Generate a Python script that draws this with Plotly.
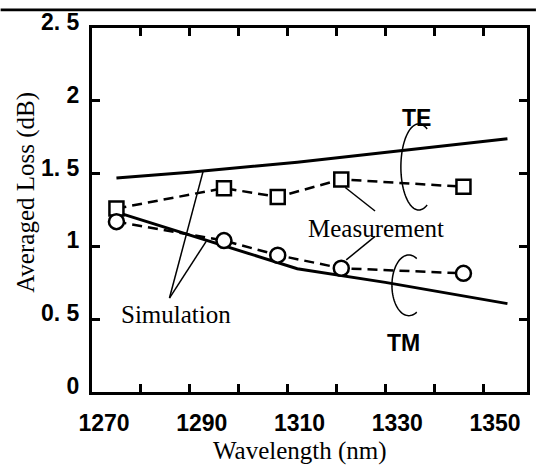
import numpy as np
import plotly.graph_objects as go

# ---------------- data ----------------
wl_meas = [1275, 1297, 1308, 1321, 1346]
te_meas = [1.26, 1.40, 1.34, 1.46, 1.41]
tm_meas = [1.17, 1.04, 0.94, 0.85, 0.815]

wl_sim = [1275, 1290, 1312, 1330, 1355]
te_sim = [1.47, 1.51, 1.578, 1.645, 1.74]
tm_sim = [1.235, 1.078, 0.847, 0.753, 0.607]

y_tickvals = [0, 0.5, 1, 1.5, 2, 2.5]
y_ticktext = ["0", "0. 5", "1", "1. 5", "2", "2. 5"]

# ---------------- geometry helpers (layout only) ----------------
W, H = 539, 468
L, R, T, B = 92, 530, 20, 392
X0, X1 = 1270, 1359
Y0, Y1 = 0.0, 2.5

def dx(px):
    return X0 + (px - L) / (R - L) * (X1 - X0)

def dy(py):
    return Y0 + (B - py) / (B - T) * (Y1 - Y0)

def ppx(px):
    return (px - L) / (R - L)

def ppy(py):
    return (B - py) / (B - T)

SERIF = "Liberation Serif, Times New Roman, serif"
GOTH = "Liberation Sans Narrow, Liberation Sans, Arial, sans-serif"

fig = go.Figure()

# simulation (solid)
fig.add_trace(go.Scatter(x=wl_sim, y=te_sim, mode="lines",
                         line=dict(color="black", width=3), showlegend=False))
fig.add_trace(go.Scatter(x=wl_sim, y=tm_sim, mode="lines",
                         line=dict(color="black", width=3), showlegend=False))
# measurement (dashed with markers)
fig.add_trace(go.Scatter(x=wl_meas, y=te_meas, mode="lines+markers",
                         line=dict(color="black", width=2.5, dash="10px,6px"),
                         marker=dict(symbol="square", size=14, color="white",
                                     line=dict(color="black", width=2.5)),
                         showlegend=False))
fig.add_trace(go.Scatter(x=wl_meas, y=tm_meas, mode="lines+markers",
                         line=dict(color="black", width=2.5, dash="10px,6px"),
                         marker=dict(symbol="circle", size=15, color="white",
                                     line=dict(color="black", width=2.5)),
                         showlegend=False))

shapes = []

def seg(p, q, w=1.5):
    shapes.append(dict(type="line", xref="x", yref="y",
                       x0=dx(p[0]), y0=dy(p[1]), x1=dx(q[0]), y1=dy(q[1]),
                       line=dict(color="black", width=w)))

# pointer lines
seg((170, 296), (204, 166))
seg((170, 296), (207, 238))
seg((347, 183), (377, 207))
seg((377, 233), (348, 257))

def bracket(cx, cy, rx, ry, a0=62, a1=298):
    t = np.radians(np.linspace(a0, a1, 60))
    xs = cx + rx * np.cos(t)
    ys = cy - ry * np.sin(t)
    path = "M " + " L ".join(f"{dx(x):.4f},{dy(y):.4f}" for x, y in zip(xs, ys))
    shapes.append(dict(type="path", xref="x", yref="y", path=path,
                       line=dict(color="black", width=1.5)))

bracket(421, 162, 18, 44)
bracket(411, 283, 17, 31)

# top black band
shapes.append(dict(type="rect", xref="paper", yref="paper",
                   x0=ppx(0), x1=ppx(W), y0=ppy(0), y1=ppy(3),
                   fillcolor="black", line=dict(width=0)))

annotations = [
    dict(text="Measurement", x=dx(378), y=dy(225), font=dict(family=SERIF, size=25)),
    dict(text="Simulation", x=dx(177), y=dy(313), font=dict(family=SERIF, size=25)),
    dict(text="TE", x=dx(419), y=dy(112), font=dict(family=GOTH, size=23, weight="bold")),
    dict(text="TM", x=dx(406), y=dy(342), font=dict(family=GOTH, size=23, weight="bold")),
]
for a in annotations:
    a.update(xref="x", yref="y", showarrow=False, xanchor="center", yanchor="middle")
    a["font"]["color"] = "black"

annotations.append(dict(text="Wavelength (nm)", xref="paper", yref="paper",
                        x=ppx(301), y=ppy(452), showarrow=False,
                        xanchor="center", yanchor="middle",
                        font=dict(family=SERIF, size=25, color="black")))
annotations.append(dict(text="Averaged Loss (dB)", xref="paper", yref="paper",
                        x=ppx(26), y=ppy(188), showarrow=False, textangle=-90,
                        xanchor="center", yanchor="middle",
                        font=dict(family=SERIF, size=25, color="black")))

tickfont = dict(family=GOTH, size=23, color="black", weight="bold")

fig.update_layout(
    width=W, height=H,
    margin=dict(l=L, r=W - R, t=T, b=H - B, pad=0),
    paper_bgcolor="white", plot_bgcolor="white",
    shapes=shapes, annotations=annotations,
    xaxis=dict(range=[X0, X1], tick0=1270, dtick=20,
               ticks="inside", ticklen=8, tickwidth=2.5, tickcolor="black",
               minor=dict(dtick=10, tick0=1270, ticks="inside", ticklen=8,
                          tickwidth=2.5, tickcolor="black"),
               showline=True, linecolor="black", linewidth=3, mirror="ticks",
               showgrid=False, zeroline=False,
               ticklabelshift=12, ticklabelstandoff=8,
               tickfont=tickfont),
    yaxis=dict(range=[Y0, Y1], tickvals=y_tickvals, ticktext=y_ticktext,
               ticks="inside", ticklen=8, tickwidth=2.5, tickcolor="black",
               showline=True, linecolor="black", linewidth=3, mirror="ticks",
               showgrid=False, zeroline=False,
               ticklabelshift=-6, ticklabelstandoff=5,
               ticklabeloverflow="allow",
               tickfont=tickfont),
)

fig.write_html("out.html", config={"displayModeBar": False},
               post_script="document.body.style.margin='0';document.body.style.padding='0';")
